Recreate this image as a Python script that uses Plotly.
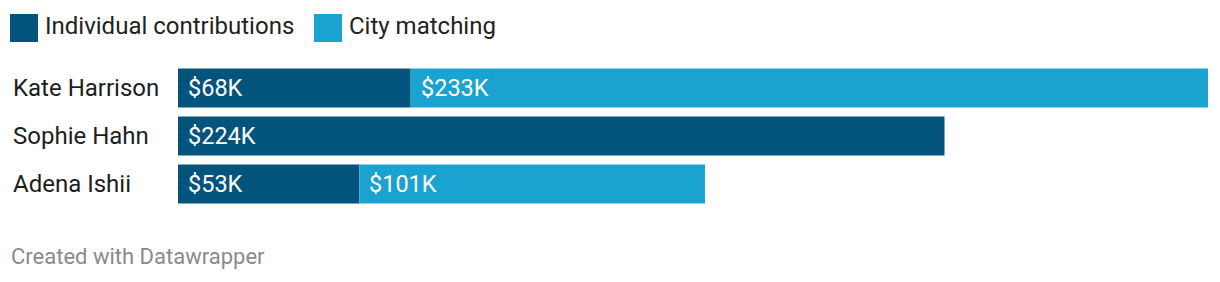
import plotly.graph_objects as go

candidates = ["Kate Harrison", "Sophie Hahn", "Adena Ishii"]
individual = [68, 224, 53]
city = [233, 0, 101]
series_names = ["Individual contributions", "City matching"]
colors = ["#03547c", "#1aa3d0"]
footer = "Created with Datawrapper"

W, H = 1220, 282
L, R, T = 178, 12, 64
PH = 144
B = H - T - PH
PW = W - L - R

def px_x(p):
    return (p - L) / PW

def px_y(p):
    return 1 - (p - T) / PH

fig = go.Figure()
fig.add_trace(go.Bar(y=candidates, x=individual, orientation="h", name=series_names[0],
                     marker=dict(color=colors[0], line=dict(width=0)), width=0.8125,
                     hoverinfo="skip"))
fig.add_trace(go.Bar(y=candidates, x=city, base=individual, orientation="h", name=series_names[1],
                     marker=dict(color=colors[1], line=dict(width=0)), width=0.8125,
                     hoverinfo="skip"))

annotations = []
font = "Roboto, sans-serif"
for i, name in enumerate(candidates):
    annotations.append(dict(x=0, xref="paper", y=name, yref="y", text=name, showarrow=False,
                            xanchor="left", xshift=-(L - 12) - 1, font=dict(family=font, size=24, color="#1d1d1d")))
    annotations.append(dict(x=0, xref="x", y=name, yref="y", text=f"${individual[i]}K", showarrow=False,
                            xanchor="left", xshift=8, font=dict(family=font, size=23.5, color="#ffffff")))
    if city[i] > 0:
        annotations.append(dict(x=individual[i], xref="x", y=name, yref="y", text=f"${city[i]}K", showarrow=False,
                                xanchor="left", xshift=8, font=dict(family=font, size=23.5, color="#ffffff")))

# legend
shapes = []
leg_items = [(10, 44), (314, 348)]
for (sx, tx), nm, c in zip(leg_items, series_names, colors):
    shapes.append(dict(type="rect", xref="paper", yref="paper", x0=px_x(sx), x1=px_x(sx + 28),
                       y0=px_y(42), y1=px_y(14), fillcolor=c, line=dict(width=0)))
    annotations.append(dict(x=px_x(tx), xref="paper", y=px_y(26), yref="paper", text=nm, showarrow=False,
                            xanchor="left", yanchor="middle", xshift=-1,
                            font=dict(family=font, size=24, color="#222222")))

annotations.append(dict(x=px_x(10), xref="paper", y=px_y(256), yref="paper", text=footer, showarrow=False,
                        xanchor="left", yanchor="middle", xshift=-1,
                        font=dict(family=font, size=22, color="#8a8a8a")))

fig.update_layout(
    width=W, height=H, autosize=False,
    margin=dict(l=L, r=R, t=T, b=B, pad=0),
    barmode="overlay", showlegend=False,
    paper_bgcolor="white", plot_bgcolor="white",
    xaxis=dict(range=[0, individual[0] + city[0]], visible=False, fixedrange=True),
    yaxis=dict(categoryorder="array", categoryarray=candidates, range=[2.5, -0.5],
               visible=False, fixedrange=True),
    annotations=annotations, shapes=shapes,
)

fig.write_html("out.html", config={"displayModeBar": False})
